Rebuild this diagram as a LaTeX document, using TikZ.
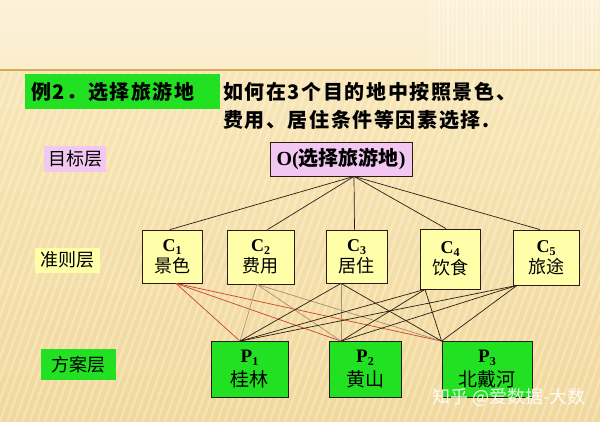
\documentclass[tikz,border=0pt]{standalone}
\usepackage{fontspec}
\setmainfont{Liberation Serif}
\newfontfamily\cjk{Noto Sans CJK SC}
\newfontfamily\cjkls{Noto Sans CJK SC}[LetterSpace=8]
\usetikzlibrary{calc}
\definecolor{bgtop}{HTML}{FCF2DA}
\definecolor{bgmid}{HTML}{F8E6B6}
\definecolor{bgbot}{HTML}{F1D89C}
\definecolor{rule}{HTML}{DDA55A}
\definecolor{gbox}{HTML}{22E022}
\definecolor{pbox}{HTML}{F2C8F2}
\definecolor{ybox}{HTML}{FFFFAA}
\definecolor{redl}{HTML}{C8442C}
\definecolor{tanl}{HTML}{B08C6C}
\definecolor{grayl}{HTML}{A09276}
\definecolor{darkl}{HTML}{2A1C12}
\newcommand{\Sb}[2]{\textbf{#1}\raisebox{-3pt}{\fontsize{12}{12}\selectfont\textbf{#2}}}
\tikzset{
  lab/.style={inner sep=0pt, font=\cjk\fontsize{18}{18}\selectfont},
  cnode/.style={draw=darkl, fill=ybox, line width=0.8pt, inner sep=0pt, align=center,
    font=\fontsize{18}{21}\selectfont, minimum width=60pt, minimum height=53pt},
  pnode/.style={draw=darkl, fill=gbox, line width=0.8pt, inner sep=0pt, align=center,
    font=\fontsize{19}{24}\selectfont, minimum height=56pt},
  link/.style={line width=0.7pt, darkl},
}
\begin{document}
\begin{tikzpicture}[x=1pt,y=-1pt]
\useasboundingbox (0,0) rectangle (600,421);
% background
\fill[top color=bgtop, bottom color=bgtop!60!bgmid] (0,0) rectangle (600,70);
\fill[top color=bgmid, bottom color=bgbot] (0,70) rectangle (600,421);
\begin{scope}
  \clip (0,72) rectangle (600,421);
  \foreach \i in {-20,...,90}{
    \draw[white, opacity=0.28, line width=2.4pt] (\i*7.5,421) -- (\i*7.5+125,72);
  }
\end{scope}
\begin{scope}
  \clip (430,0) rectangle (600,70);
  \foreach \i in {0,...,40}{
    \draw[white, opacity=0.35, line width=1.6pt] (430+\i*4.5,0) -- (430+\i*4.5,70);
  }
\end{scope}
\draw[rule, line width=2pt] (0,70) -- (600,70);

% title
\node[fill=gbox, inner sep=0pt, minimum width=195pt, minimum height=35pt, anchor=north west] (title) at (25,74) {};
\node[anchor=west, inner sep=0pt, font=\cjkls\bfseries\fontsize{20}{20}\selectfont] (titletxt) at (31,92) {例2．选择旅游地};
\node[anchor=west, inner sep=0pt, font=\cjkls\bfseries\fontsize{20}{20}\selectfont] (q1) at (223,92) {如何在3个目的地中按照景色、};
\node[anchor=west, inner sep=0pt, font=\cjkls\bfseries\fontsize{20}{20}\selectfont] (q2) at (223,120) {费用、居住条件等因素选择.};

% layer labels
\node[lab, fill=pbox, minimum width=62pt, minimum height=26pt] (L1) at (75,159) {目标层};
\node[lab, fill=ybox, minimum width=65pt, minimum height=25pt] (L2) at (67,260) {准则层};
\node[lab, fill=gbox, minimum width=75pt, minimum height=31pt] (L3) at (78,364.5) {方案层};

% goal
\node[draw=darkl, fill=pbox, line width=0.8pt, inner sep=0pt, minimum width=142pt, minimum height=34pt,
      font=\fontsize{20}{20}\selectfont] (O) at (341,159) {\textbf{O(}{\cjk\bfseries 选择旅游地}\textbf{)}};

% criteria
\node[cnode] (C1) at (172,256.5) {\Sb{C}{1}\\{\cjk 景色}};
\node[cnode, minimum width=67pt, minimum height=54pt] (C2) at (260.5,257) {\Sb{C}{2}\\{\cjk 费用}};
\node[cnode, minimum width=61pt] (C3) at (356.5,256.5) {\Sb{C}{3}\\{\cjk 居住}};
\node[cnode, minimum width=60pt, minimum height=60pt] (C4) at (450,259) {\Sb{C}{4}\\{\cjk 饮食}};
\node[cnode, minimum width=66pt, minimum height=55pt] (C5) at (546,257.5) {\Sb{C}{5}\\{\cjk 旅途}};

% alternatives
\node[pnode, minimum width=77pt] (P1) at (249.5,369.5) {\Sb{P}{1}\\{\cjk 桂林}};
\node[pnode, minimum width=72pt] (P2) at (365,369.5) {\Sb{P}{2}\\{\cjk 黄山}};
\node[pnode, minimum width=90pt] (P3) at (487,369.5) {\Sb{P}{3}\\{\cjk 北戴河}};

% connection points
\coordinate (ob) at ($(O.south)+(13,0)$);
\coordinate (c1t) at ($(C1.north)+(-2,0)$);
\coordinate (c2t) at ($(C2.north)+(7,0)$);
\coordinate (c3t) at ($(C3.north)+(-2,0)$);
\coordinate (c4t) at ($(C4.north)+(-4,0)$);
\coordinate (c5t) at ($(C5.north)+(-6,0)$);
\coordinate (c1b) at ($(C1.south)+(4,0)$);
\coordinate (c2b) at ($(C2.south)+(-3.5,0)$);
\coordinate (c3b) at ($(C3.south)+(-15.5,0)$);
\coordinate (c4b) at ($(C4.south)+(-25,0)$);
\coordinate (c5b) at ($(C5.south)+(-29,0)$);
\coordinate (p1t) at ($(P1.north)+(-9.5,0)$);
\coordinate (p2t) at ($(P2.north)+(-24,0)$);
\coordinate (p3t) at (P3.north west);

% goal to criteria
\foreach \c in {c1t,c2t,c3t,c4t,c5t}{ \draw[link] (ob) -- (\c); }

% criteria to alternatives
\foreach \p in {p1t,p2t,p3t}{ \draw[link, redl] (c1b) -- (\p); }
\foreach \p in {p1t,p2t,p3t}{ \draw[link, tanl] (c2b) -- (\p); }
\draw[link] (c3b) -- (p1t);
\draw[link, grayl] (c3b) -- (p2t);
\draw[link] (c3b) -- (p3t);
\foreach \p in {p1t,p2t,p3t}{ \draw[link] (c4b) -- (\p); }
\foreach \p in {p1t,p2t,p3t}{ \draw[link] (c5b) -- (\p); }

% watermark
\node[anchor=west, inner sep=0pt, text=white, opacity=0.9, font=\cjk\fontsize{18}{18}\selectfont] (wm) at (432,397) {知乎 @爱数据-大数};
\end{tikzpicture}
\end{document}
